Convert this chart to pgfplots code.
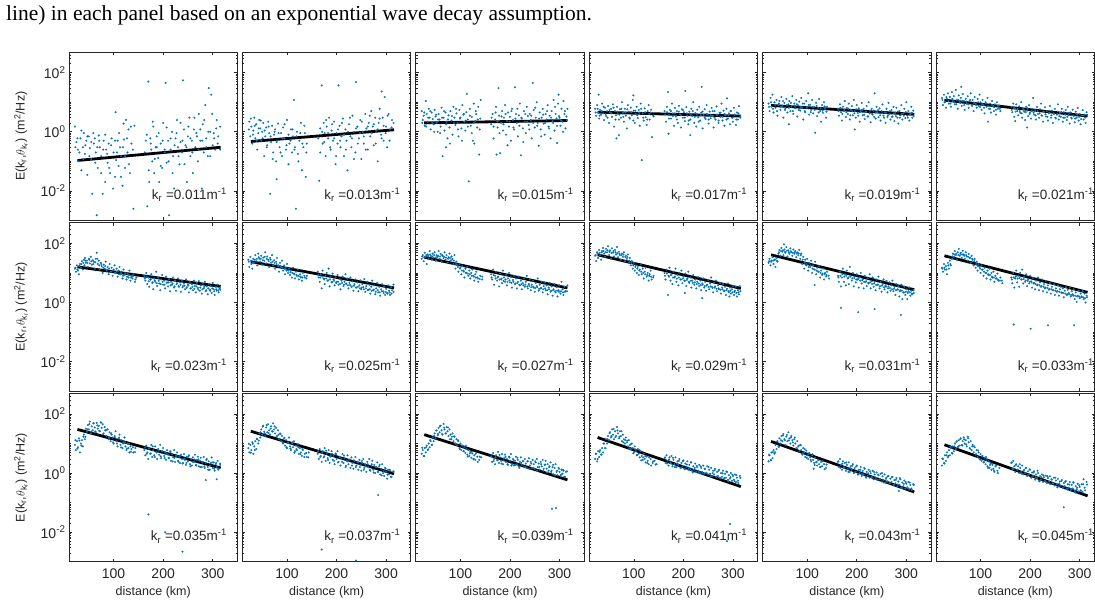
\documentclass[border=0pt]{standalone}
\usepackage{pgfplots}
\pgfplotsset{compat=1.18}
\usepackage{fontspec}
\setmainfont{Liberation Sans}
\newfontfamily\seriffont{Liberation Serif}
\definecolor{mblue}{rgb}{0,0.447,0.741}
\definecolor{axgray}{gray}{0.15}
% settings shared by all eighteen panels
\pgfplotsset{
  xmin=10, xmax=350, ymin=1e-3, ymax=500,
  width=168.5pt, height=168.5pt, scale only axis,
  axis line style={axgray, line width=0.8pt},
  xtick={100,200,300}, xticklabels={},
  ytick={1e-2,1,1e2}, yticklabels={},
  minor ytick={0.002,0.003,0.004,0.005,0.006,0.007,0.008,0.009,0.02,0.03,0.04,0.05,0.06,0.07,0.08,0.09,0.1,0.2,0.3,0.4,0.5,0.6,0.7,0.8,0.9,2,3,4,5,6,7,8,9,10,20,30,40,50,60,70,80,90,200,300,400},
  tick align=inside, major tick length=3pt, minor tick length=1.8pt,
  tick style={axgray, line width=0.6pt},
  tick label style={font=\fontsize{14}{16}\selectfont, text=axgray},
  xticklabel style={yshift=-3.5pt},
  ylabel style={at={(axis description cs:-0.285,0.5)}, anchor=center, font=\fontsize{12.5}{15}\selectfont, text=axgray},
  xlabel style={at={(axis description cs:0.5,-0.178)}, anchor=center, font=\fontsize{12.5}{15}\selectfont, text=axgray},
}
\tikzset{
  wpts/.style={color=mblue, only marks, mark=*, mark size=0.9pt, line width=0.2pt},
  wfit/.style={black, line width=2.8pt},
  wlab/.style={anchor=base east, font=\fontsize{13.5}{15}\selectfont, text=axgray, inner sep=0pt},
}
\newcommand\ylab{E(k\textsubscript{r},$\theta$\textsubscript{k\textsubscript{r}}) (m\textsuperscript{2}/Hz)}
\newcommand\yA{10\textsuperscript{-2}}
\newcommand\yB{10\textsuperscript{0}}
\newcommand\yC{10\textsuperscript{2}}
\begin{document}
\begin{tikzpicture}
\node[anchor=base west, inner sep=0pt, font=\seriffont\fontsize{21.5}{25}\selectfont] at (6pt,581pt) {line) in each panel based on an exponential wave decay assumption.};

% ---------------- row 1 ----------------
\begin{semilogyaxis}[anchor=north west, at={(69pt,550pt)}, yticklabels={\yA,\yB,\yC}, ylabel={\ylab}]
\addplot[wpts] coordinates {(22,1.5)(25,0.45)(28,0.25)(30,0.1)(33,0.6)(35,0.05)(38,0.3)(40,0.9)(42,0.18)(45,0.5)(47,0.035)(50,0.7)(52,0.28)(55,0.12)(57,0.008)(60,0.4)(62,0.6)(64,0.2)(66,0.0015)(68,0.06)(70,0.75)(72,0.3)(75,0.15)(78,0.008)(80,0.5)(83,0.02)(85,0.25)(88,0.09)(90,0.4)(93,0.04)(96,0.6)(100,0.2)(103,0.03)(104,4.6)(105,0.11)(108,0.5)(110,0.07)(113,0.3)(115,0.15)(118,0.015)(120,1.9)(121,0.55)(123,0.06)(125,2.5)(128,0.2)(130,1.2)(133,0.04)(136,0.4)(140,0.0025)(142,1.6)
(165,0.5)(168,0.003)(170,50)(172,0.02)(174,0.6)(176,0.25)(178,0.1)(180,1.5)(182,0.04)(185,0.3)(187,0.7)(190,0.13)(192,0.02)(195,0.4)(198,0.06)(200,2)(203,0.2)(205,45)(207,0.09)(210,0.5)(212,0.0015)(215,0.25)(218,1)(220,0.15)(222,0.012)(225,0.6)(228,2.5)(230,0.3)(233,0.08)(235,0.45)(238,0.2)(240,55)(242,1.2)(245,0.35)(248,0.02)(250,0.7)(253,3)(255,0.15)(258,0.5)(260,0.04)(262,1.2)(265,0.3)(268,0.7)(270,0.1)(272,4)(275,0.5)(278,0.012)(280,1.8)(282,0.2)(285,8)(287,0.6)(290,0.15)(292,30)(295,1)(297,18)(300,0.35)(302,0.9)(305,0.25)(308,2.5)(310,0.4)(315,1.5)};
\addplot[wpts] coordinates {(23,0.3)(27,0.6)(31,0.2)(35,1.1)(39,0.12)(43,0.35)(47,0.7)(51,0.15)(55,0.45)(59,0.9)(63,0.09)(67,0.3)(71,0.5)(75,0.04)(79,0.25)(83,0.8)(87,0.18)(91,0.06)(95,0.35)(99,0.012)(103,0.5)(107,0.2)(111,0.9)(115,0.03)(119,0.3)(123,0.15)(127,0.6)(131,0.08)(135,1.5)(139,0.25)
(163,0.2)(167,0.8)(171,0.05)(175,0.4)(179,2.2)(183,0.12)(187,0.3)(191,0.9)(195,0.07)(199,0.5)(203,0.25)(207,1.4)(211,0.1)(215,0.6)(219,0.04)(223,0.35)(227,0.9)(231,0.15)(235,2)(239,0.5)(243,0.08)(247,0.3)(251,1.5)(255,0.6)(259,0.2)(263,3)(267,0.9)(271,0.25)(275,1.2)(279,0.5)(283,2.5)(287,0.3)(291,1)(295,0.15)(299,4)(303,0.6)(307,1.3)(311,0.7)(315,0.25)};
\addplot[wfit] coordinates {(27,0.107)(316,0.30)};
\node[wlab] at (axis cs:329,0.0051) {k\textsubscript{r} =0.011m\textsuperscript{-1}};
\end{semilogyaxis}

\begin{semilogyaxis}[anchor=north west, at={(242.4pt,550pt)}]
\addplot[wpts] coordinates {(24,2.2)(26,0.7)(28,1.5)(30,0.4)(32,1.1)(34,3)(36,0.6)(38,1.8)(40,0.25)(42,0.9)(44,2.5)(46,1.3)(48,0.5)(50,1)(52,2)(54,0.15)(56,0.7)(58,1.4)(60,0.35)(62,2.2)(64,0.9)(66,0.008)(68,0.45)(70,1.6)(72,0.2)(74,0.8)(76,1.2)(78,0.1)(79,0.025)(80,0.5)(82,1.9)(85,0.3)(88,0.9)(90,0.15)(92,1.4)(95,0.6)(98,0.25)(100,2.5)(103,0.8)(105,0.4)(108,1.2)(110,0.2)(112,0.7)(114,12)(116,0.3)(118,0.0025)(120,1)(122,0.18)(125,0.5)(128,2)(130,0.05)(133,0.3)(136,0.9)(138,0.03)(140,0.4)
(165,0.022)(167,1.3)(170,37)(172,0.4)(174,2)(176,0.9)(178,0.15)(180,1.5)(183,0.6)(185,3)(188,0.25)(190,1.1)(193,0.5)(195,2.2)(198,0.08)(200,0.9)(202,0.4)(204,37)(206,1.6)(208,0.3)(210,0.7)(213,2.8)(215,0.15)(218,1.2)(220,0.5)(222,0.05)(225,1.8)(228,0.7)(230,0.3)(232,3.5)(235,1)(238,0.2)(239,48)(242,1.5)(245,0.6)(248,2.5)(250,0.12)(253,1)(255,0.4)(258,4)(260,1.3)(263,0.25)(265,2)(268,0.7)(270,5)(273,1.5)(275,0.35)(278,3)(280,1.1)(283,0.1)(285,2)(287,6)(290,0.8)(291,23)(293,3)(295,0.5)(297,15)(300,1.5)(302,0.3)(305,4)(308,1.2)(312,2.5)};
\addplot[wpts] coordinates {(23,1.2)(27,2.8)(31,0.8)(35,1.6)(39,0.5)(43,1.3)(47,2.4)(51,0.6)(55,1.1)(59,0.3)(63,1.5)(67,0.7)(71,0.12)(75,1)(79,0.45)(83,0.9)(87,0.2)(91,0.6)(95,1.8)(99,0.35)(103,0.08)(107,0.5)(111,1.2)(115,0.25)(119,0.7)(123,0.1)(127,0.9)(131,0.4)(135,1.6)(139,0.2)
(163,0.6)(167,0.2)(171,1)(175,0.45)(179,2.5)(183,0.9)(187,0.3)(191,1.8)(195,0.6)(199,0.15)(203,1.2)(207,0.5)(211,2)(215,0.8)(219,0.25)(223,1)(227,3)(231,0.6)(235,0.12)(239,1.3)(243,0.4)(247,0.9)(251,2.2)(255,0.7)(259,0.25)(263,1.5)(267,3.5)(271,0.9)(275,1.8)(279,0.4)(283,1.2)(287,2.8)(291,0.6)(295,1.6)(299,0.9)(303,3.5)(307,0.5)(311,1.4)(315,2)};
\addplot[wfit] coordinates {(27,0.47)(316,1.17)};
\node[wlab] at (axis cs:329,0.0051) {k\textsubscript{r} =0.013m\textsuperscript{-1}};
\end{semilogyaxis}

\begin{semilogyaxis}[anchor=north west, at={(415.8pt,550pt)}]
\addplot[wpts] coordinates {(22,5)(24,2.5)(26,3.5)(28,1.6)(30,11)(32,4)(34,2.2)(36,6)(38,3)(40,1.2)(42,4.5)(44,2.7)(46,1.8)(48,5.5)(50,3.3)(52,2)(54,1)(56,4)(58,2.6)(60,1.5)(62,6.5)(64,0.15)(66,3)(68,1.1)(70,4.5)(71,0.3)(72,2.2)(74,0.6)(76,3.6)(78,1.4)(80,5)(82,2.4)(84,0.8)(86,7)(88,3)(90,1.7)(92,4.2)(94,2)(96,0.7)(98,5.5)(100,3)(102,1.3)(104,8)(106,3.8)(108,2.2)(110,1.1)(112,4.6)(113,19)(115,2.6)(117,0.021)(119,6)(121,1.6)(123,3.2)(125,0.5)(127,9)(128,0.4)(130,2.3)(132,4)(134,1.4)(136,7)(138,0.17)(140,2.8)(141,12)
(162,1.8)(165,4)(167,0.6)(170,2.6)(172,7)(173,0.17)(175,1.4)(177,30)(178,3.5)(180,0.19)(182,2)(184,5)(186,1.1)(188,3)(190,8)(192,0.8)(194,2.3)(196,4.5)(198,1.5)(200,3.2)(202,0.5)(204,6)(206,2.5)(208,1.2)(210,32)(212,4)(214,2)(216,0.7)(218,3.6)(220,9)(222,0.16)(224,2.8)(226,1.3)(228,5)(230,2.2)(232,0.9)(234,7)(236,3.4)(238,1.7)(240,4)(242,2.5)(244,0.6)(246,45)(248,5.5)(250,1.4)(252,3)(254,10)(256,2)(258,0.34)(260,4.5)(262,1.2)(264,3)(266,6)(268,1.9)(270,0.8)(272,4)(274,2.6)(276,8)(278,1.5)(280,3.5)(282,0.6)(284,5)(286,2.3)(288,12)(290,1.1)(292,4)(294,2.8)(295,0.42)(297,9)(298,18)(300,3)(302,1.6)(304,6)(306,2.2)(308,11)(310,4)(312,1.3)(314,3.3)(316,6)};
\addplot[wpts] coordinates {(23,2)(27,4.5)(31,1.5)(35,3)(39,5)(43,2)(47,1)(51,3.8)(55,2.6)(59,0.9)(63,3)(67,5)(71,1.8)(75,2.6)(79,0.4)(83,3.4)(87,2)(91,6)(95,1.2)(99,2.8)(103,0.5)(107,4)(111,2.4)(115,1.5)(119,3.5)(123,0.9)(127,2)(131,5)(135,2.6)(139,1.2)
(163,3)(167,1.5)(171,4.5)(175,2.2)(179,0.9)(183,3.3)(187,1.8)(191,4)(195,0.35)(199,2.2)(203,5)(207,1.4)(211,2.8)(215,6)(219,1.6)(223,3)(227,0.45)(231,4)(235,2.2)(239,1.2)(243,3.5)(247,2)(251,6.5)(255,1.6)(259,2.8)(263,0.7)(267,3.8)(271,2)(275,5)(279,1.3)(283,3)(287,2)(291,7)(295,1.6)(299,3.4)(303,2.4)(307,1)(311,5)(315,2.5)};
\addplot[wfit] coordinates {(27,2.0)(316,2.4)};
\node[wlab] at (axis cs:329,0.0051) {k\textsubscript{r} =0.015m\textsuperscript{-1}};
\end{semilogyaxis}

\begin{semilogyaxis}[anchor=north west, at={(589.2pt,550pt)}]
\addplot[wpts] coordinates {(22,6)(24,3.5)(26,8)(28,4.5)(29,18)(30,2.8)(32,5.5)(34,3.8)(36,9)(38,4.2)(40,2.5)(42,6.5)(44,3.4)(46,5)(48,7.5)(50,2)(52,4.6)(54,6)(56,3.2)(58,8.5)(60,1.5)(62,5)(64,3.6)(65,0.6)(66,7)(68,4)(70,0.77)(70,2.6)(72,5.8)(74,3)(76,10)(78,4.4)(80,2.2)(82,6)(84,3.5)(86,1.3)(88,8)(90,4.8)(92,2.8)(94,6.6)(96,3.6)(98,12)(99,17)(100,5.2)(102,2)(104,4)(106,7)(108,2.9)(110,5.5)(112,1.6)(114,9)(116,0.11)(118,4.2)(120,2.4)(122,6.2)(124,3.1)(126,1.7)(128,5)(130,8)(132,2.6)(134,4.5)(137,0.66)(140,3.3)
(162,5)(165,2.2)(167,7)(169,22)(170,0.86)(171,3.8)(173,5.5)(175,2.8)(177,9)(179,4.2)(181,1.6)(183,6.4)(185,3.3)(187,5)(189,2)(191,7.5)(193,3.9)(195,1.4)(197,5.8)(199,3)(201,4.6)(203,2.3)(204,24)(206,6.8)(208,3.5)(210,1.8)(212,4.8)(214,0.77)(214,2.6)(216,6)(218,3.4)(220,10)(222,2)(224,4.3)(226,1.5)(228,5.6)(230,3.1)(232,7)(234,2.4)(236,4.5)(237,33)(239,1.3)(241,3.7)(243,5.8)(245,2.7)(247,8)(249,3.9)(251,1.9)(253,4.8)(255,2.9)(257,6.4)(259,3.5)(261,1.4)(263,5)(265,2.6)(267,7.2)(269,3.8)(271,2)(273,4.4)(275,3.2)(277,9)(279,2.4)(281,5.2)(283,1.6)(285,3.6)(287,6)(288,13.5)(290,2.8)(292,4.2)(294,1.8)(296,5)(298,3)(300,2.2)(302,6.5)(304,3.8)(306,1.7)(308,4.5)(310,2.6)(312,7.4)(315,3.4)};
\addplot[wpts] coordinates {(23,4.5)(27,6)(31,3.5)(35,5)(39,7)(43,4)(47,3)(51,5.5)(55,4.2)(59,6.5)(63,2.6)(67,4.8)(71,3.8)(75,6)(79,3.2)(83,4.5)(87,5.8)(91,3)(95,4.6)(99,2.4)(103,5.2)(107,3.6)(111,4.4)(115,6)(119,3)(123,4.6)(127,2.6)(131,4)(135,5.6)(139,3.6)
(163,3.8)(167,4.6)(171,2.8)(175,5)(179,3.4)(183,4.2)(187,2.6)(191,4.8)(195,3.6)(199,5.4)(203,3)(207,4.2)(211,2.4)(215,3.8)(219,5)(223,3.2)(227,4)(231,2.2)(235,3.6)(239,4.8)(243,3)(247,4)(251,2.6)(255,3.6)(259,5)(263,3)(267,3.8)(271,2.4)(275,4.4)(279,3.2)(283,4)(287,2.6)(291,3.6)(295,5)(299,3)(303,3.8)(307,2.6)(311,4.2)(315,3)};
\addplot[wfit] coordinates {(27,4.6)(316,3.4)};
\node[wlab] at (axis cs:329,0.0051) {k\textsubscript{r} =0.017m\textsuperscript{-1}};
\end{semilogyaxis}

\begin{semilogyaxis}[anchor=north west, at={(762.6pt,550pt)}]
\addplot[wpts] coordinates {(22,9)(24,5)(26,14)(28,7)(30,18)(32,4.5)(34,10)(36,6.5)(38,12)(40,3.5)(42,8)(44,11)(46,5.5)(48,15)(50,7.5)(52,3)(54,9.5)(56,6)(58,13)(60,4.5)(62,8.5)(63,1.8)(64,11)(66,5)(68,7)(70,16)(72,4)(74,9)(76,6.2)(78,12)(80,3.3)(82,7.8)(84,10.5)(86,5.2)(88,14)(90,6.5)(92,2.6)(94,9)(96,4.6)(98,11)(100,7)(102,20)(104,3.8)(106,8.2)(108,5.5)(110,12)(112,4.2)(114,7)(116,0.93)(118,9.5)(120,3.4)(122,6.4)(124,13)(126,5)(128,2.2)(130,8)(132,4.4)(134,10)(136,6)(138,3)(140,7)
(162,6)(164,3.5)(166,8.5)(168,4.6)(170,2.4)(172,7)(174,5)(176,11)(178,3.2)(180,6.4)(182,4)(184,9)(186,2.6)(188,5.5)(190,7.5)(192,3.6)(194,12)(196,1.2)(196,5)(198,3)(200,8)(202,4.3)(204,6.2)(206,2.2)(208,5)(210,9.5)(212,3.6)(214,6)(216,2.7)(218,4.8)(220,7.4)(222,3.3)(224,10)(226,4.2)(228,2.1)(230,6)(232,3.8)(234,5.2)(236,20)(238,2.8)(240,7)(242,4.5)(244,3.1)(246,6.2)(248,2.4)(250,5)(252,8.4)(254,3.5)(256,4.6)(258,2)(260,6)(262,3.2)(264,9.5)(266,4)(268,2.6)(270,5.4)(272,3.3)(274,7)(276,2.3)(278,4.4)(280,6.5)(282,3)(284,1.9)(286,5)(288,3.6)(290,8)(292,2.6)(294,4.2)(296,6)(298,2.9)(300,10)(302,3.5)(304,5)(306,2.4)(308,4)(310,7)(312,3)(314,5.2)};
\addplot[wpts] coordinates {(23,7)(27,10)(31,6)(35,8)(39,5)(43,9)(47,7)(51,11)(55,5.5)(59,8)(63,6.5)(67,9.5)(71,5)(75,7.5)(79,8.5)(83,5.5)(87,7)(91,9)(95,5)(99,6.5)(103,8)(107,4.6)(111,6.8)(115,5.5)(119,7.5)(123,4.5)(127,6.2)(131,5.2)(135,7.2)(139,4.8)
(163,5)(167,6.5)(171,4)(175,5.6)(179,4.6)(183,6)(187,3.6)(191,5)(195,4.2)(199,5.8)(203,3.5)(207,4.6)(211,5.5)(215,3.8)(219,4.8)(223,3.3)(227,5.2)(231,4)(235,3.2)(239,4.6)(243,5.4)(247,3.6)(251,4.2)(255,3)(259,4.5)(263,3.6)(267,5)(271,3.2)(275,4.2)(279,3.4)(283,4.8)(287,3)(291,4)(295,3.5)(299,4.6)(303,3)(307,3.8)(311,4.4)(315,3.4)};
\addplot[wfit] coordinates {(27,7.8)(316,3.9)};
\node[wlab] at (axis cs:329,0.0051) {k\textsubscript{r} =0.019m\textsuperscript{-1}};
\end{semilogyaxis}

\begin{semilogyaxis}[anchor=north west, at={(936pt,550pt)}, xmax=330, width=158.5pt]
\addplot[wpts] coordinates {(22,14)(24,8)(26,18)(28,10)(30,6.5)(32,13)(34,20)(36,9)(38,15)(40,7)(42,22)(44,11)(46,16)(48,8.5)(50,26)(52,12)(54,6)(56,17)(58,10)(60,14)(61,33)(62,7.5)(64,19)(66,11)(68,5.5)(70,13)(72,9)(74,16)(76,6.5)(78,11)(80,20)(82,8)(84,12)(86,5)(88,15)(90,9)(92,6.5)(94,13)(96,7.5)(98,18)(100,10)(102,5.5)(104,12)(106,8)(108,4.2)(110,10)(112,7)(114,14)(115,2.2)(117,6)(119,9)(121,4.5)(123,11)(125,7.5)(127,5)(129,8.5)(131,3.8)(133,10)(135,6)(137,7.8)(140,5)
(162,7)(164,4.6)(166,9)(168,3.2)(170,6)(170,2.3)(172,8.5)(174,5)(176,3.6)(178,7.2)(180,4.4)(182,10)(184,3)(186,6)(188,4.8)(190,2.5)(192,7)(194,1.4)(194,5.2)(196,3.4)(198,8)(200,4.5)(202,2.8)(204,6)(206,14)(208,3.8)(210,5.4)(212,2.6)(214,7)(216,4)(218,3)(220,5.8)(222,9)(224,3.5)(226,2.2)(228,4.8)(230,6.8)(232,3.3)(234,5)(236,2.4)(238,4.2)(240,7.5)(242,3)(244,5.2)(246,2)(248,4)(250,6)(252,2.8)(254,3.8)(256,8.5)(258,2.6)(260,4.4)(262,3.2)(264,6)(266,2.2)(268,4.6)(270,3)(272,5.5)(274,2.5)(276,7)(278,3.6)(280,1.9)(282,4.5)(284,2.8)(286,5.6)(288,3.4)(290,2.1)(292,4.8)(294,3)(296,6.4)(298,2.4)(300,4)(302,1.8)(304,3.6)(306,5.4)(308,2.6)(310,3.8)(312,2)(314,4.6)};
\addplot[wpts] coordinates {(23,12)(27,10)(31,15)(35,11)(39,9)(43,13)(47,10)(51,8.5)(55,12)(59,9.5)(63,11)(67,8)(71,10.5)(75,8.5)(79,12)(83,7.5)(87,9.5)(91,8)(95,10)(99,7)(103,8.6)(107,6.5)(111,9)(115,7.5)(119,6)(123,8)(127,6.8)(131,5.6)(135,7.5)(139,6)
(163,5.5)(167,6.5)(171,4.8)(175,6)(179,5)(183,4.2)(187,5.6)(191,4.6)(195,6.2)(199,4)(203,5)(207,4.4)(211,3.6)(215,5)(219,4.2)(223,3.6)(227,4.8)(231,3.9)(235,3.2)(239,4.4)(243,3.6)(247,4.2)(251,3)(255,4)(259,3.4)(263,4.6)(267,3)(271,3.8)(275,3.2)(279,4.4)(283,3)(287,3.6)(291,2.8)(295,3.8)(299,3.2)(303,2.7)(307,3.5)(311,3)(315,3.8)};
\addplot[wfit] coordinates {(27,11.8)(316,3.4)};
\node[wlab] at (axis cs:329,0.0051) {k\textsubscript{r} =0.021m\textsuperscript{-1}};
\end{semilogyaxis}

% ---------------- row 2 ----------------
\begin{semilogyaxis}[anchor=north west, at={(69pt,379.3pt)}, yticklabels={\yA,\yB,\yC}, ylabel={\ylab}]
\addplot[wpts] coordinates {(22,14)(24,11)(26,18)(28,12)(30,9)(32,20)(34,15)(36,25)(38,13)(40,28)(41,18)(42,32)(44,22)(46,26)(48,16)(50,30)(52,21)(54,35)(56,19)(58,27)(60,24)(62,14)(64,30)(66,48)(68,20)(70,26)(72,13)(74,22)(76,17)(78,10)(80,19)(82,14)(84,24)(86,12)(88,16)(90,9)(92,20)(94,11)(96,15)(98,8)(100,13)(102,18)(104,10)(106,14)(108,7.5)(110,12)(112,16)(114,9)(116,11)(118,6.5)(120,13)(122,8.5)(124,10)(126,6)(128,9.5)(130,7)(132,12)(134,5.5)(136,8)(138,6.5)(140,9)(143,5)(146,7)
(162,8)(164,5.5)(166,10)(168,4.2)(170,7)(172,3.4)(174,6)(176,9)(178,4.6)(180,2.8)(182,6.5)(184,5)(186,11)(188,3.6)(190,7)(192,4.4)(194,2.6)(196,6)(198,8.5)(200,4)(202,5.5)(204,3)(206,7.5)(208,4.8)(210,3.5)(212,6.2)(214,2.4)(216,5)(218,4)(220,7)(222,3.2)(224,5.6)(226,2.5)(228,4.5)(230,6.5)(232,3.4)(234,4.8)(236,2.3)(238,5.5)(240,3.6)(242,4.4)(244,2.8)(246,6)(248,3.3)(250,4)(252,2.2)(254,5)(256,3)(258,4.2)(260,2.6)(262,5.5)(264,3.6)(266,2.2)(268,4.6)(270,3.1)(272,5.3)(274,2.5)(276,3.8)(278,2)(280,4.4)(282,3)(284,5)(286,2.4)(288,3.5)(290,1.9)(292,4.2)(294,2.7)(296,3.6)(298,2.1)(300,4.6)(302,2.8)(304,1.8)(306,3.4)(308,2.5)(310,4)(312,2.2)(314,3)};
\addplot[wpts] coordinates {(23,15)(27,13)(31,17)(35,20)(39,22)(43,26)(47,22)(51,28)(55,25)(59,20)(63,23)(67,30)(71,18)(75,20)(79,15)(83,17)(87,13)(91,14)(95,11)(99,12)(103,10)(107,11)(111,9)(115,10)(119,8)(123,9)(127,7.5)(131,8.5)(135,7)(139,7.8)(144,6)
(163,6.5)(167,7.5)(171,5.2)(175,6)(179,4.8)(183,5.6)(187,4.5)(191,5.4)(195,4.2)(199,5)(203,4)(207,4.6)(211,4.8)(215,3.8)(219,4.4)(223,3.5)(227,4.2)(231,3.6)(235,4)(239,3.3)(243,3.7)(247,3.1)(251,3.8)(255,3)(259,3.4)(263,2.9)(267,3.5)(271,2.7)(275,3.2)(279,2.8)(283,3.4)(287,2.6)(291,3)(295,2.5)(299,3)(303,2.4)(307,2.8)(311,2.6)(315,2.7)};
\addplot[wfit] coordinates {(27,16)(316,3.5)};
\node[wlab] at (axis cs:329,0.0051) {k\textsubscript{r} =0.023m\textsuperscript{-1}};
\end{semilogyaxis}

\begin{semilogyaxis}[anchor=north west, at={(242.4pt,379.3pt)}]
\addplot[wpts] coordinates {(22,28)(24,16)(26,35)(28,20)(30,14)(32,30)(34,22)(36,40)(38,25)(40,18)(42,45)(44,30)(46,24)(48,38)(50,19)(52,33)(54,26)(56,50)(58,21)(60,36)(62,28)(64,16)(66,32)(68,22)(70,40)(72,18)(74,27)(76,14)(78,24)(80,32)(82,17)(84,11)(86,22)(88,15)(90,26)(92,12)(94,18)(96,9)(98,15)(100,20)(102,10)(104,14)(106,8.5)(108,12)(110,7)(112,15)(114,9.5)(116,6.5)(118,11)(120,8)(122,13)(124,6)(126,9)(128,7)(130,5.5)(132,10)(136,7)(140,8)
(162,11)(164,7)(166,5)(168,9)(170,3)(172,12)(174,6.5)(176,4.2)(178,8)(180,10)(182,5.5)(184,14)(186,3.5)(188,7.5)(190,4.8)(192,9.5)(194,6)(196,3.8)(198,7)(200,5)(202,8.5)(204,4)(206,6.2)(208,2.8)(210,5.5)(212,7.5)(214,3.6)(216,5)(218,9)(220,4.2)(222,6.5)(224,3)(226,4.6)(228,7)(230,3.4)(232,5.2)(234,2.5)(236,4.2)(238,6)(240,3.2)(242,4.8)(244,2.4)(246,3.8)(248,5.6)(250,2.8)(252,4.2)(254,3.3)(256,6.2)(258,2.3)(260,3.6)(262,5)(264,2.7)(266,4)(268,2)(270,3.4)(272,5.5)(274,2.6)(276,3.8)(278,1.9)(280,3)(282,4.6)(284,2.2)(286,3.4)(288,1.7)(290,2.8)(292,4.2)(294,2.4)(296,3.5)(298,1.8)(300,2.9)(302,2.1)(304,3.8)(306,2.5)(308,1.8)(310,3.3)(312,2.6)(315,4)};
\addplot[wpts] coordinates {(23,24)(27,26)(31,22)(35,28)(39,30)(43,34)(47,30)(51,27)(55,35)(59,30)(63,25)(67,28)(71,24)(75,22)(79,20)(83,18)(87,17)(91,15)(95,14)(99,12)(103,12)(107,10.5)(111,10)(115,9)(119,8.5)(123,8)(127,7.5)(131,7)(135,8)(139,6.5)
(163,8.5)(167,7)(171,7.5)(175,6)(179,6.5)(183,5.6)(187,6)(191,5)(195,5.4)(199,4.6)(203,5)(207,4.2)(211,4.6)(215,4)(219,4.4)(223,3.8)(227,3.9)(231,3.5)(235,3.7)(239,3.2)(243,3.4)(247,3)(251,3.2)(255,2.8)(259,3)(263,2.6)(267,2.8)(271,2.5)(275,2.7)(279,2.3)(283,2.6)(287,2.2)(291,2.4)(295,2.1)(299,2.3)(303,2)(307,2.2)(311,2)(315,2.3)};
\addplot[wfit] coordinates {(27,24)(316,3.1)};
\node[wlab] at (axis cs:329,0.0051) {k\textsubscript{r} =0.025m\textsuperscript{-1}};
\end{semilogyaxis}

\begin{semilogyaxis}[anchor=north west, at={(415.8pt,379.3pt)}]
\addplot[wpts] coordinates {(22,30)(24,40)(26,25)(28,48)(30,35)(32,20)(34,42)(36,30)(38,55)(40,38)(42,28)(44,45)(46,33)(48,50)(50,26)(52,40)(54,35)(56,55)(58,30)(60,44)(62,24)(64,38)(66,32)(68,50)(70,28)(72,40)(74,22)(76,34)(78,45)(80,26)(82,36)(84,30)(86,20)(88,40)(90,14)(92,24)(94,18)(96,11)(98,20)(100,15)(102,9)(104,17)(106,12)(108,7)(110,14)(112,10)(114,16)(116,8)(118,12)(120,6.5)(122,10)(124,13)(126,8)(128,5.5)(130,9)(132,11)(134,7)(136,5)(140,8)(144,6)
(162,9)(164,6)(166,13)(168,4)(170,8)(172,11)(174,5.5)(176,7.5)(178,3.5)(180,9.5)(182,6)(184,4.5)(186,12)(188,7)(190,5)(192,8.5)(194,3.8)(196,6.5)(198,10)(200,4.8)(202,7.2)(204,3.2)(206,5.8)(208,8)(210,4.2)(212,6.5)(214,3)(216,5)(218,7.5)(220,3.8)(222,5.5)(224,2.8)(226,4.5)(228,6.5)(230,3.4)(232,5)(234,8)(236,3)(238,4.2)(240,6)(242,2.6)(244,4)(246,5.5)(248,3.2)(250,2.3)(252,4.6)(254,3.6)(256,6.5)(258,2.5)(260,4)(262,3)(264,5)(266,2.2)(268,3.6)(270,4.8)(272,2.6)(274,3.8)(276,1.9)(278,3.2)(280,4.6)(282,2.3)(284,3.5)(286,1.7)(288,2.8)(290,4.2)(292,2.2)(294,3.3)(296,1.6)(298,2.6)(300,3.8)(302,2)(304,5)(306,2.8)(308,1.8)(310,3.4)(312,2.4)(316,3.8)};
\addplot[wpts] coordinates {(23,36)(27,34)(31,40)(35,38)(39,42)(43,36)(47,40)(51,34)(55,38)(59,36)(63,40)(67,35)(71,33)(75,30)(79,32)(83,28)(87,26)(91,20)(95,16)(99,14)(103,12)(107,11)(111,10)(115,9.5)(119,9)(123,8)(127,7.5)(131,7)(135,6.5)(139,6.2)(144,7.5)
(163,7)(167,8.5)(171,6.5)(175,7)(179,6)(183,6.4)(187,5.4)(191,6)(195,5)(199,5.6)(203,4.6)(207,5)(211,4.4)(215,4.6)(219,4)(223,4.2)(227,3.8)(231,4)(235,3.5)(239,3.7)(243,3.3)(247,3.4)(251,3.1)(255,3.3)(259,2.9)(263,3.1)(267,2.8)(271,3)(275,2.6)(279,2.8)(283,2.5)(287,2.6)(291,2.4)(295,2.5)(299,2.3)(303,2.4)(307,2.2)(311,2.3)(315,2.4)};
\addplot[wfit] coordinates {(27,34)(316,3.1)};
\node[wlab] at (axis cs:329,0.0051) {k\textsubscript{r} =0.027m\textsuperscript{-1}};
\end{semilogyaxis}

\begin{semilogyaxis}[anchor=north west, at={(589.2pt,379.3pt)}]
\addplot[wpts] coordinates {(22,38)(24,25)(26,50)(28,32)(30,60)(32,40)(34,28)(36,55)(38,70)(40,45)(42,35)(44,65)(46,50)(48,80)(50,40)(52,58)(54,30)(56,68)(58,48)(60,36)(62,60)(64,42)(66,75)(68,34)(70,52)(72,40)(74,28)(76,45)(78,35)(80,50)(82,25)(84,38)(86,30)(88,42)(90,22)(92,32)(94,18)(96,25)(98,14)(100,22)(102,12)(104,18)(106,10)(108,16)(110,8.5)(112,13)(114,20)(116,9)(118,14)(120,6.5)(122,11)(124,15)(126,7.5)(128,10)(130,5.5)(132,9)(134,12)(136,6)(140,8)
(162,10)(164,6)(166,13)(169,1.8)(170,8)(172,15)(174,5.5)(176,9)(178,4.2)(180,11)(182,7)(184,14)(186,5)(188,8.5)(190,3.8)(192,10)(194,6)(196,12)(198,4.5)(200,7.5)(202,5.5)(203,2.1)(204,9.5)(206,3.6)(208,6.5)(210,11)(212,4.6)(214,7)(216,3.2)(218,5.5)(220,8.5)(222,4)(224,6)(226,3)(228,5)(230,7.2)(232,3.6)(234,5.5)(236,2.6)(238,1.4)(238,4.4)(240,6.5)(242,3.2)(244,5)(246,2.5)(248,4)(250,5.8)(252,2.8)(254,4.4)(256,7)(258,3.3)(260,2.2)(262,4.6)(264,3.5)(266,5.5)(268,2.4)(270,3.8)(272,2.8)(274,4.6)(276,2)(278,3.2)(280,4.2)(282,2.4)(284,3.4)(286,1.8)(288,2.9)(290,4.4)(292,2.2)(293,1.6)(294,3.2)(296,2)(298,2.8)(300,3.6)(302,1.8)(304,2.5)(306,3.4)(308,1.6)(310,2.6)(312,1.9)(314,3.6)};
\addplot[wpts] coordinates {(23,40)(27,45)(31,48)(35,50)(39,55)(43,50)(47,58)(51,52)(55,48)(59,55)(63,50)(67,46)(71,44)(75,40)(79,42)(83,35)(87,34)(91,26)(95,22)(99,18)(103,16)(107,14)(111,12)(115,11)(119,10)(123,9)(127,8.5)(131,8)(135,7.5)(139,7)
(163,8)(167,9.5)(171,7.5)(175,8.5)(179,7)(183,7.6)(187,6.4)(191,7)(195,6)(199,6.4)(203,5.4)(207,5.8)(211,5)(215,5.4)(219,4.6)(223,4.8)(227,4.2)(231,4.4)(235,3.9)(239,4)(243,3.6)(247,3.7)(251,3.3)(255,3.5)(259,3.1)(263,3.2)(267,2.9)(271,3)(275,2.7)(279,2.8)(283,2.5)(287,2.6)(291,2.4)(295,2.5)(299,2.2)(303,2.3)(307,2.1)(311,2.2)(315,2.4)};
\addplot[wfit] coordinates {(27,41)(316,3.0)};
\node[wlab] at (axis cs:329,0.0051) {k\textsubscript{r} =0.029m\textsuperscript{-1}};
\end{semilogyaxis}

\begin{semilogyaxis}[anchor=north west, at={(762.6pt,379.3pt)}]
\addplot[wpts] coordinates {(22,22)(24,30)(26,18)(28,26)(30,34)(32,20)(34,28)(36,16)(38,32)(40,24)(42,45)(44,60)(46,38)(48,70)(50,52)(52,40)(53,93)(54,62)(56,48)(58,75)(60,36)(62,58)(64,44)(66,68)(68,50)(70,38)(72,62)(74,45)(76,55)(78,34)(80,50)(82,40)(84,60)(86,30)(88,45)(90,20)(92,35)(94,14)(96,28)(98,18)(100,30)(102,12)(104,22)(106,16)(108,26)(110,10)(112,18)(114,13)(115,3.9)(116,24)(118,9)(120,15)(122,11)(124,17)(126,7)(128,12)(130,8.5)(132,14)(134,6)(136,10)(138,7.5)(140,11)(144,6.5)
(162,8)(164,5)(166,11)(168,0.66)(168,3.5)(170,7)(172,14)(174,5)(176,9)(178,3.8)(180,12)(182,6.5)(184,4.2)(186,16)(188,8)(190,5.5)(192,10)(194,3.5)(196,7.5)(198,4.8)(200,9)(202,6)(203,0.47)(204,3.2)(206,7)(208,10)(210,4.4)(212,6)(214,3)(216,8)(218,5)(220,3.6)(222,6.5)(224,4.4)(226,9)(228,3)(230,5.2)(232,7)(234,3.4)(236,0.6)(236,5)(238,2.6)(240,6)(242,4)(244,7.5)(246,3)(248,5)(250,2.3)(252,4.2)(254,6)(256,2.8)(258,3.8)(260,5.4)(262,2.2)(264,3.5)(266,4.8)(268,2.5)(270,3.8)(272,5.5)(274,2.4)(276,3.4)(278,1.8)(280,4.2)(282,2.8)(284,3.6)(286,1.6)(288,2.6)(289,0.38)(290,4)(292,1.3)(294,2.2)(296,3.4)(298,1.8)(300,2.8)(302,1.3)(304,2.4)(306,3.2)(308,1.7)(310,2.5)(312,1.9)(314,2.6)};
\addplot[wpts] coordinates {(23,25)(27,24)(31,26)(35,28)(39,26)(43,50)(47,55)(51,58)(55,52)(59,56)(63,50)(67,54)(71,48)(75,50)(79,45)(83,46)(87,40)(91,28)(95,22)(99,20)(103,16)(107,18)(111,14)(115,13)(119,12)(123,11)(127,10)(131,9.5)(135,9)(139,8.5)(143,8)
(163,7)(167,8)(171,9)(175,7.5)(179,8)(183,7)(187,7.5)(191,6.5)(195,6.8)(199,6)(203,6.2)(207,5.5)(211,5.6)(215,5)(219,5.2)(223,4.6)(227,4.8)(231,4.2)(235,4.4)(239,3.9)(243,4)(247,3.6)(251,3.7)(255,3.3)(259,3.4)(263,3)(267,3.1)(271,2.8)(275,2.9)(279,2.6)(283,2.7)(287,2.4)(291,2.5)(295,2.2)(299,2.3)(303,2.1)(307,2.2)(311,2)(315,2.1)};
\addplot[wfit] coordinates {(27,41)(316,2.7)};
\node[wlab] at (axis cs:329,0.0051) {k\textsubscript{r} =0.031m\textsuperscript{-1}};
\end{semilogyaxis}

\begin{semilogyaxis}[anchor=north west, at={(936pt,379.3pt)}, xmax=330, width=158.5pt]
\addplot[wpts] coordinates {(22,15)(24,11)(26,20)(28,13)(30,17)(32,9)(34,22)(36,14)(38,26)(40,18)(42,30)(44,45)(46,35)(48,55)(50,40)(52,28)(54,50)(56,65)(58,38)(60,48)(62,32)(64,56)(66,42)(68,30)(70,50)(72,36)(74,26)(76,44)(78,32)(80,22)(82,38)(84,28)(86,18)(88,30)(90,15)(92,24)(94,12)(96,20)(98,16)(100,10)(102,18)(104,13)(106,8)(108,15)(110,10)(112,6.5)(114,12)(116,8.5)(118,14)(120,6)(122,10)(124,7)(126,11)(128,5)(130,8)(132,6.5)(134,9.5)(136,5.5)(140,7)(144,4.5)
(162,7)(164,4.5)(166,10)(167,0.18)(168,3.2)(170,6.5)(172,12)(174,4.8)(176,8)(178,3.4)(180,10)(182,6)(184,13)(186,4.4)(188,7.5)(190,5)(192,9)(194,3.6)(196,6)(198,4.4)(200,8)(201,0.13)(202,5.2)(204,3.2)(206,6.8)(208,4.6)(210,2.8)(212,5.5)(214,3.8)(216,7)(218,2.6)(220,4.8)(222,3.4)(224,6)(226,2.4)(228,4.2)(230,3)(232,5.4)(234,2.2)(236,0.17)(236,3.8)(238,2.7)(240,4.6)(242,2)(244,3.4)(246,2.6)(248,4.2)(250,1.8)(252,3)(254,2.3)(256,3.8)(258,1.7)(260,2.8)(262,3.4)(264,2.1)(266,3)(268,1.5)(270,2.5)(272,3.3)(274,1.8)(276,2.7)(278,2.1)(280,3.2)(282,1.6)(284,2.4)(286,1.9)(288,2.8)(289,0.17)(290,1.3)(292,2.2)(294,1.05)(296,1.7)(298,2.5)(300,1.4)(302,2)(304,1.6)(306,2.4)(308,1.3)(310,2)(312,1.0)(314,1.7)};
\addplot[wpts] coordinates {(23,14)(27,15)(31,13)(35,18)(39,20)(43,36)(47,42)(51,45)(55,40)(59,44)(63,42)(67,38)(71,40)(75,35)(79,33)(83,30)(87,25)(91,20)(95,17)(99,14)(103,13)(107,11)(111,10)(115,9)(119,8.5)(123,7.5)(127,7)(131,6.5)(135,6)(139,5.5)(143,5.5)
(163,6)(167,7)(171,7.5)(175,6.5)(179,6.8)(183,6)(187,6.2)(191,5.5)(195,5.4)(199,5)(203,4.8)(207,4.4)(211,4.2)(215,4)(219,3.8)(223,3.6)(227,3.4)(231,3.2)(235,3.1)(239,2.9)(243,2.8)(247,2.6)(251,2.5)(255,2.4)(259,2.3)(263,2.2)(267,2.1)(271,2)(275,1.9)(279,1.9)(283,1.8)(287,1.7)(291,1.7)(295,1.6)(299,1.6)(303,1.5)(307,1.5)(311,1.4)(315,1.5)};
\addplot[wfit] coordinates {(27,38)(316,2.2)};
\node[wlab] at (axis cs:329,0.0051) {k\textsubscript{r} =0.033m\textsuperscript{-1}};
\end{semilogyaxis}

% ---------------- row 3 ----------------
\begin{semilogyaxis}[anchor=north west, at={(69pt,208.7pt)}, yticklabels={\yA,\yB,\yC}, ylabel={\ylab}, xticklabels={100,200,300}, xlabel={distance (km)}]
\addplot[wpts] coordinates {(22,9)(24,6)(26,12)(28,7.5)(30,15)(32,5)(34,10)(36,13)(38,8)(40,20)(42,14)(44,32)(46,25)(48,42)(50,30)(52,55)(54,22)(56,38)(58,28)(60,48)(62,35)(64,24)(66,50)(68,32)(70,40)(72,26)(74,52)(76,34)(78,45)(80,22)(82,36)(84,28)(86,18)(88,30)(90,14)(92,24)(94,12)(96,20)(98,16)(100,10)(102,18)(104,26)(106,12)(108,8)(110,15)(112,20)(114,9)(116,13)(118,7)(120,11)(122,16)(124,8)(126,6)(128,10)(130,7)(132,5)(134,8)(136,6.5)(140,5)(144,7)
(162,6)(164,4)(166,8.5)(168,5)(170,0.04)(170,3)(172,7)(174,4.5)(176,9)(178,3.5)(180,6)(182,4)(184,8)(186,5.2)(188,3)(190,6.5)(192,4.2)(194,9)(196,3.2)(198,5.5)(200,7)(202,3.8)(204,0.01)(204,5)(206,2.8)(208,6)(210,4.2)(212,3.2)(214,5.5)(216,2.6)(218,4.4)(220,3.4)(222,6)(224,2.4)(226,3.8)(228,5)(230,2.6)(232,3.6)(234,2.2)(236,4.2)(238,3)(239,0.0022)(240,2.2)(242,4.4)(244,2.8)(246,1.9)(248,3.6)(250,2.5)(252,4)(254,2)(256,3)(258,1.8)(260,3.4)(262,2.4)(264,4.2)(266,1.9)(268,2.8)(270,3.6)(272,1.7)(274,2.6)(276,3.3)(278,1.6)(280,2.4)(282,3.5)(284,1.5)(286,0.58)(286,2.2)(288,3)(290,1.6)(292,2.5)(294,1.3)(296,2.2)(298,3.4)(300,1.5)(302,2.3)(304,1.2)(306,2)(308,0.62)(308,1.6)(310,2.6)(312,1.4)(315,1.9)};
\addplot[wpts] coordinates {(23,13)(27,6.8)(31,12.6)(35,8.5)(39,17)(43,16.8)(47,30)(51,45)(55,25.6)(59,49)(63,25.5)(67,41)(71,27)(75,51)(79,21)(83,28)(87,30)(91,16)(95,22)(99,11)(103,16)(107,10)(111,16)(115,7.4)(119,10)(123,11)(127,6.8)(131,9.8)(135,5.3)(139,7.5)(143,5.1)
(163,7.2)(167,4.5)(171,6.7)(175,4.6)(179,8)(183,3.5)(187,5)(191,5.8)(195,3.7)(199,5.5)(203,3.2)(207,4.5)(211,3.2)(215,5.2)(219,2.5)(223,3.3)(227,4)(231,2.4)(235,3.9)(239,2.1)(243,3.1)(247,2.2)(251,3.6)(255,1.7)(259,2.4)(263,2.9)(267,1.8)(271,2.9)(275,1.6)(279,2.3)(283,1.7)(287,2.8)(291,1.3)(295,1.8)(299,2.3)(303,1.4)(307,2.2)(311,1.3)(315,2.1)};
\addplot[wfit] coordinates {(27,30)(316,1.5)};
\node[wlab] at (axis cs:329,0.0051) {k\textsubscript{r} =0.035m\textsuperscript{-1}};
\end{semilogyaxis}

\begin{semilogyaxis}[anchor=north west, at={(242.4pt,208.7pt)}, xticklabels={100,200,300}, xlabel={distance (km)}]
\addplot[wpts] coordinates {(22,7)(24,5)(26,9)(28,6)(30,11)(32,4.5)(34,8)(36,12)(38,6.5)(40,14)(42,10)(44,22)(46,16)(48,30)(50,20)(52,40)(54,25)(56,18)(58,35)(60,24)(62,45)(64,28)(66,20)(68,38)(70,26)(72,48)(74,30)(76,22)(78,34)(80,18)(82,28)(84,14)(86,22)(88,12)(90,18)(92,10)(94,15)(96,8.5)(98,13)(100,7)(102,11)(104,16)(106,8)(108,6)(110,10)(112,7.5)(114,12)(116,5.5)(118,8.5)(120,6)(122,9.5)(124,4.5)(126,7)(128,5)(130,3.8)(132,6)(136,4.5)(140,3.5)(144,5)
(162,4.5)(164,3)(166,6.5)(168,3.8)(170,0.0026)(170,2.4)(172,5.5)(174,3.4)(176,7)(178,2.6)(180,4.6)(182,3.2)(184,6)(186,2.2)(188,4)(190,5.5)(192,2.8)(194,3.8)(196,2)(198,4.6)(200,3)(202,5.5)(204,2.4)(206,3.5)(208,1.8)(210,3)(212,4.4)(214,2.2)(216,3.2)(218,1.6)(220,2.6)(222,4)(224,2)(226,2.8)(228,1.5)(230,3.4)(232,2.2)(234,1.4)(236,2.6)(238,3.5)(239,0.0011)(240,1.8)(242,2.4)(244,1.3)(246,2.8)(248,1.9)(250,1.2)(252,2.2)(254,3)(256,1.5)(258,2)(260,1.1)(262,2.4)(264,1.6)(266,3)(268,1.2)(270,1.8)(272,2.6)(274,1.3)(276,1.9)(278,1)(280,1.6)(282,2.3)(284,0.18)(284,1.1)(286,1.7)(288,0.9)(290,1.4)(292,2)(294,1)(296,0.8)(298,1.5)(300,1.1)(302,0.65)(304,1.3)(306,0.9)(308,1.2)(310,0.75)(314,1.1)};
\addplot[wpts] coordinates {(23,9.8)(27,4.9)(31,9.8)(35,6)(39,14.5)(43,12.6)(47,24)(51,37)(55,22)(59,42)(63,22.5)(67,32)(71,25.5)(75,38)(79,17)(83,20)(87,21)(91,11)(95,15.6)(99,7.5)(103,10.4)(107,6.8)(111,10.9)(115,4.9)(119,6.5)(123,7.5)(127,4.4)(131,6.5)(135,3.5)(139,4.8)(143,3.4)
(163,5.5)(167,3.5)(171,4.8)(175,3.7)(179,5.7)(183,2.8)(187,3.6)(191,4.5)(195,2.6)(199,4.3)(203,2.3)(207,3.5)(211,2.4)(215,3.9)(219,1.75)(223,2.5)(227,2.9)(231,1.8)(235,2.7)(239,1.6)(243,2.3)(247,1.6)(251,2.6)(255,1.3)(259,1.7)(263,2)(267,1.3)(271,2)(275,1.05)(279,1.6)(283,1.1)(287,1.9)(291,0.84)(295,1.2)(299,1.4)(303,0.88)(307,1.3)(311,0.75)(315,1.15)};
\addplot[wfit] coordinates {(27,26)(316,0.95)};
\node[wlab] at (axis cs:329,0.0051) {k\textsubscript{r} =0.037m\textsuperscript{-1}};
\end{semilogyaxis}

\begin{semilogyaxis}[anchor=north west, at={(415.8pt,208.7pt)}, xticklabels={100,200,300}, xlabel={distance (km)}]
\addplot[wpts] coordinates {(22,4.5)(24,6)(26,3.8)(28,7)(30,5)(32,8.5)(34,6)(36,10)(38,7.5)(40,12)(42,9)(44,16)(46,12)(48,22)(50,15)(52,28)(54,19)(56,34)(58,24)(60,40)(62,28)(64,20)(66,46)(68,30)(70,22)(72,36)(74,26)(76,18)(78,30)(80,20)(82,14)(84,22)(86,12)(88,17)(90,10)(92,14)(94,8.5)(96,12)(98,7)(100,10)(102,6)(104,8.5)(106,5.5)(108,7.5)(110,4.8)(112,6.5)(114,4.2)(116,6)(118,3.8)(120,5.2)(122,3.3)(124,4.6)(126,3)(128,4)(130,2.8)(134,3.6)(138,2.8)(142,3.4)
(162,3.6)(164,2.4)(166,4.8)(168,3)(170,2)(172,4)(174,2.8)(176,5.2)(178,2.2)(180,3.4)(182,2.6)(184,4.4)(186,2)(188,3.2)(190,4.2)(192,2.4)(194,3)(196,1.9)(198,3.6)(200,2.6)(202,4.4)(204,2)(206,3)(208,1.8)(210,2.6)(212,3.6)(214,2)(216,2.8)(218,1.7)(220,2.4)(222,3.4)(224,1.9)(226,2.6)(228,1.6)(230,3)(232,2.1)(234,1.5)(236,2.5)(238,3.2)(240,1.8)(242,2.4)(244,1.5)(246,2.8)(248,2)(250,1.4)(252,2.3)(254,3)(256,1.6)(258,2.1)(260,1.3)(262,2.4)(264,1.7)(266,2.8)(268,1.4)(270,1.9)(272,2.6)(274,1.4)(276,2)(278,1.2)(280,1.7)(282,2.3)(284,1.2)(285,0.062)(286,1.6)(288,0.9)(290,1.5)(292,2)(293,0.066)(294,1.1)(296,0.85)(298,1.5)(300,1.1)(302,0.8)(304,1.3)(306,0.95)(308,1.2)(310,0.75)(313,1.1)};
\addplot[wpts] coordinates {(23,7.2)(27,3.75)(31,7.5)(35,6.4)(39,13)(43,9.1)(47,18)(51,27.5)(55,21)(59,39)(63,21)(67,34.5)(71,22)(75,35)(79,14)(83,17)(87,17.5)(91,9.6)(95,13)(99,6.4)(103,8.6)(107,5.5)(111,8.4)(115,3.6)(119,4.6)(123,5.25)(127,3)(131,4.5)(135,2.4)(139,3.6)
(163,4.2)(167,2.55)(171,3.45)(175,2.7)(179,4.1)(183,2.1)(187,2.7)(191,3.5)(195,2)(199,3.4)(203,1.8)(207,2.8)(211,1.9)(215,3.3)(219,1.5)(223,2.2)(227,2.5)(231,1.6)(235,2.5)(239,1.4)(243,2.1)(247,1.5)(251,2.5)(255,1.2)(259,1.6)(263,2)(267,1.2)(271,1.95)(275,1.05)(279,1.6)(283,1.1)(287,1.9)(291,0.84)(295,1.2)(299,1.4)(303,0.88)(307,1.3)(311,0.75)(315,1.15)};
\addplot[wfit] coordinates {(27,20)(316,0.59)};
\node[wlab] at (axis cs:329,0.0051) {k\textsubscript{r} =0.039m\textsuperscript{-1}};
\end{semilogyaxis}

\begin{semilogyaxis}[anchor=north west, at={(589.2pt,208.7pt)}, xticklabels={100,200,300}, xlabel={distance (km)}]
\addplot[wpts] coordinates {(22,3)(24,4.5)(26,2.5)(28,5.5)(30,3.5)(32,6)(34,4.2)(36,7)(38,5)(40,10)(42,7)(44,14)(46,10)(48,18)(50,13)(52,24)(54,16)(56,30)(58,20)(60,14)(62,26)(64,18)(66,36)(68,22)(70,15)(72,26)(74,18)(76,12)(78,20)(80,14)(82,10)(84,16)(86,11)(88,8)(90,13)(92,9)(94,6.5)(96,10)(98,7)(100,5)(102,8)(104,5.5)(106,4)(108,6.5)(110,4.5)(112,3.4)(114,5.5)(116,3.8)(118,2.8)(120,4.5)(122,3)(124,2.3)(126,3.6)(128,2.6)(130,2)(134,3)(138,2.2)(142,2.6)(146,2)
(162,3.2)(164,2.2)(166,4)(168,2.6)(170,1.8)(172,3.4)(174,2.3)(176,3.8)(178,1.7)(180,2.8)(182,2)(184,3.4)(186,1.6)(188,2.5)(190,1.9)(192,3)(194,1.5)(196,2.2)(198,1.7)(200,2.7)(202,1.4)(204,2.1)(206,1.6)(208,2.5)(210,1.3)(212,1.9)(214,1.4)(216,2.3)(218,1.2)(220,1.7)(222,1.3)(224,2.1)(226,1.1)(228,1.6)(230,1.2)(232,1.9)(234,1)(236,1.5)(238,1.1)(240,1.8)(242,0.95)(244,1.4)(246,1)(248,1.7)(250,0.9)(252,1.3)(254,0.95)(256,1.5)(258,0.8)(260,1.2)(262,0.9)(264,1.4)(266,0.75)(268,1.1)(270,0.8)(272,1.3)(274,0.7)(276,1)(278,0.75)(280,1.2)(282,0.65)(284,0.95)(286,0.7)(288,1.1)(288,0.005)(290,0.6)(292,0.85)(294,0.019)(294,0.65)(296,1)(298,0.55)(300,0.8)(302,0.6)(304,0.9)(306,0.5)(308,0.7)(310,0.55)(314,0.8)};
\addplot[wpts] coordinates {(23,4.5)(27,3)(31,5.2)(35,4.25)(39,10)(43,7)(47,14)(51,22.5)(55,17.6)(59,31)(63,16.5)(67,27.6)(71,17)(75,26)(79,11)(83,13)(87,12.5)(91,6.8)(95,9.75)(99,4.65)(103,6.3)(107,4.1)(111,6.1)(115,2.7)(119,3.4)(123,3.75)(127,2.2)(131,3.4)(135,1.8)(139,2.5)(144,1.95)
(163,3.4)(167,2.1)(171,2.9)(175,2.1)(179,3.3)(183,1.6)(187,2.1)(191,2.6)(195,1.5)(199,2.5)(203,1.35)(207,1.95)(211,1.45)(215,2.3)(219,1.05)(223,1.5)(227,1.75)(231,1.1)(235,1.7)(239,0.98)(243,1.4)(247,1.0)(251,1.6)(255,0.77)(259,1.0)(263,1.25)(267,0.76)(271,1.2)(275,0.66)(279,0.98)(283,0.68)(287,1.13)(291,0.53)(295,0.72)(299,0.88)(303,0.54)(307,0.85)(311,0.47)(315,0.69)};
\addplot[wfit] coordinates {(27,16)(316,0.35)};
\node[wlab] at (axis cs:329,0.0051) {k\textsubscript{r} =0.041m\textsuperscript{-1}};
\end{semilogyaxis}

\begin{semilogyaxis}[anchor=north west, at={(762.6pt,208.7pt)}, xticklabels={100,200,300}, xlabel={distance (km)}]
\addplot[wpts] coordinates {(22,2.5)(24,4)(26,2.8)(28,5)(30,3.2)(32,6)(34,4.5)(36,9)(38,6.5)(40,12)(42,8)(44,15)(46,10)(48,18)(50,12)(52,21)(54,14)(56,9)(58,17)(60,12)(62,24)(64,15)(66,10)(68,18)(70,13)(72,8.5)(74,14)(76,10)(78,7)(80,12)(82,8)(84,5.5)(86,9)(88,6)(90,4.2)(92,7)(94,5)(96,3.5)(98,5.8)(100,4)(102,3)(104,4.8)(106,3.4)(108,2.5)(110,4)(112,2.8)(113,1.4)(114,2.2)(116,3.3)(118,2.3)(120,1.8)(122,2.8)(124,2)(126,1.6)(128,2.4)(130,1.7)(134,2)(138,1.5)
(162,2.4)(164,1.6)(166,3)(168,1.9)(170,1.3)(172,2.5)(174,1.6)(176,2.2)(178,1.2)(180,1.9)(182,1.4)(184,2.3)(186,1.1)(188,1.7)(190,1.3)(192,2)(194,1)(196,1.5)(198,1.1)(200,1.8)(202,0.9)(204,1.3)(206,1)(208,1.6)(210,0.8)(212,1.2)(214,0.9)(216,1.4)(218,0.75)(220,1.1)(222,0.8)(224,1.3)(226,0.7)(228,1)(230,0.75)(232,1.2)(234,0.62)(236,0.9)(238,0.7)(240,1.05)(242,0.58)(244,0.85)(246,0.62)(248,0.95)(250,0.52)(252,0.78)(254,0.58)(256,0.9)(258,0.48)(260,0.7)(262,0.52)(264,0.8)(266,0.45)(268,0.65)(270,0.5)(272,0.75)(274,0.4)(276,0.58)(278,0.45)(280,0.68)(282,0.36)(284,0.52)(285,0.25)(286,0.4)(288,0.62)(290,0.33)(292,0.48)(294,0.36)(296,0.56)(298,0.3)(300,0.44)(302,0.33)(304,0.5)(306,0.28)(308,0.4)(310,0.3)(314,0.42)};
\addplot[wpts] coordinates {(23,4.2)(27,2.7)(31,5.1)(35,5.1)(39,11.6)(43,7.7)(47,13)(51,18.75)(55,12.8)(59,19.5)(63,12.75)(67,16)(71,11)(75,16)(79,7)(83,8.5)(87,8.75)(91,4.6)(95,6.5)(99,3.3)(103,4.4)(107,2.8)(111,4.35)(115,1.9)(119,2.4)(123,2.75)(127,1.6)(131,2.5)(135,1.35)(139,1.95)
(163,2.5)(167,1.5)(171,2.1)(175,1.5)(179,2.3)(183,1.1)(187,1.45)(191,1.8)(195,1.05)(199,1.7)(203,0.9)(207,1.3)(211,0.94)(215,1.5)(219,0.7)(223,0.98)(227,1.15)(231,0.72)(235,1.1)(239,0.62)(243,0.89)(247,0.64)(251,1.0)(255,0.48)(259,0.64)(263,0.78)(267,0.46)(271,0.73)(275,0.4)(279,0.59)(283,0.41)(287,0.68)(291,0.31)(295,0.43)(299,0.5)(303,0.31)(307,0.48)(311,0.27)(315,0.4)};
\addplot[wfit] coordinates {(27,11.8)(316,0.23)};
\node[wlab] at (axis cs:329,0.0051) {k\textsubscript{r} =0.043m\textsuperscript{-1}};
\end{semilogyaxis}

\begin{semilogyaxis}[anchor=north west, at={(936pt,208.7pt)}, xmax=330, width=158.5pt, xticklabels={100,200,300}, xlabel={distance (km)}]
\addplot[wpts] coordinates {(22,1.8)(24,3)(26,2.2)(28,4)(30,2.6)(32,5)(34,3.4)(36,6)(38,4)(40,7)(42,4.8)(44,8)(46,5.5)(48,10)(50,6.5)(52,12)(54,7.5)(56,13)(58,8.5)(60,15)(62,9)(64,12)(66,16)(68,10)(70,13)(72,8)(74,17)(76,11)(78,7)(80,12)(82,6)(84,9)(86,5)(88,7.5)(90,4.2)(92,6)(94,3.5)(96,5)(98,3)(100,4.4)(102,2.6)(104,3.8)(106,2.3)(108,3.3)(110,2)(112,2.9)(114,1.7)(116,2.5)(118,1.5)(120,2.2)(122,1.3)(124,1.9)(126,1.4)(128,1.1)(130,1.7)(134,1.2)(138,1.5)
(162,2.2)(164,1.4)(166,2.6)(168,1.7)(170,1.1)(172,2)(174,1.3)(176,1.7)(178,1)(180,1.5)(182,1.1)(184,1.8)(186,0.9)(188,1.3)(190,1)(192,1.5)(194,0.8)(196,1.15)(198,0.9)(200,1.3)(202,0.7)(204,1.05)(206,0.8)(208,1.15)(210,0.6)(212,0.9)(214,0.68)(216,1)(218,0.55)(220,0.8)(222,0.6)(224,0.9)(226,0.5)(228,0.72)(230,0.55)(232,0.82)(234,0.46)(236,0.68)(238,0.52)(240,0.78)(242,0.42)(244,0.6)(246,0.46)(248,0.7)(250,0.38)(252,0.56)(254,0.42)(256,0.64)(258,0.36)(260,0.52)(262,0.38)(264,0.58)(266,0.32)(268,0.46)(268,0.07)(270,0.36)(272,0.54)(274,0.3)(276,0.42)(278,0.32)(280,0.5)(282,0.27)(284,0.4)(286,0.3)(288,0.48)(290,0.25)(292,0.36)(294,0.28)(296,0.44)(298,0.24)(300,0.34)(302,0.26)(304,0.42)(306,0.23)(308,0.62)(310,0.32)(314,0.5)};
\addplot[wpts] coordinates {(23,3.1)(27,2.1)(31,4)(35,3.8)(39,8)(43,4.55)(47,8)(51,11.25)(55,8)(59,14.3)(63,8.6)(67,13.8)(71,9.35)(75,15.2)(79,6.65)(83,8)(87,8.1)(91,4.4)(95,5.85)(99,2.85)(103,3.7)(107,2.4)(111,3.5)(115,1.5)(119,1.9)(123,2.1)(127,1.2)(131,1.8)(135,1)
(163,2.3)(167,1.4)(171,1.85)(175,1.3)(179,2.0)(183,0.95)(187,1.2)(191,1.5)(195,0.84)(199,1.35)(203,0.71)(207,1.05)(211,0.72)(215,1.2)(219,0.53)(223,0.72)(227,0.83)(231,0.52)(235,0.78)(239,0.44)(243,0.62)(247,0.44)(251,0.7)(255,0.33)(259,0.44)(263,0.54)(267,0.32)(271,0.51)(275,0.28)(279,0.41)(283,0.29)(287,0.49)(291,0.22)(295,0.32)(299,0.39)(303,0.25)(307,0.42)(311,0.26)(315,0.41)};
\addplot[wfit] coordinates {(27,9.1)(316,0.17)};
\node[wlab] at (axis cs:329,0.0051) {k\textsubscript{r} =0.045m\textsuperscript{-1}};
\end{semilogyaxis}

\pgfresetboundingbox
\useasboundingbox (0pt,0pt) rectangle (1095pt,602pt);
\end{tikzpicture}
\end{document}
